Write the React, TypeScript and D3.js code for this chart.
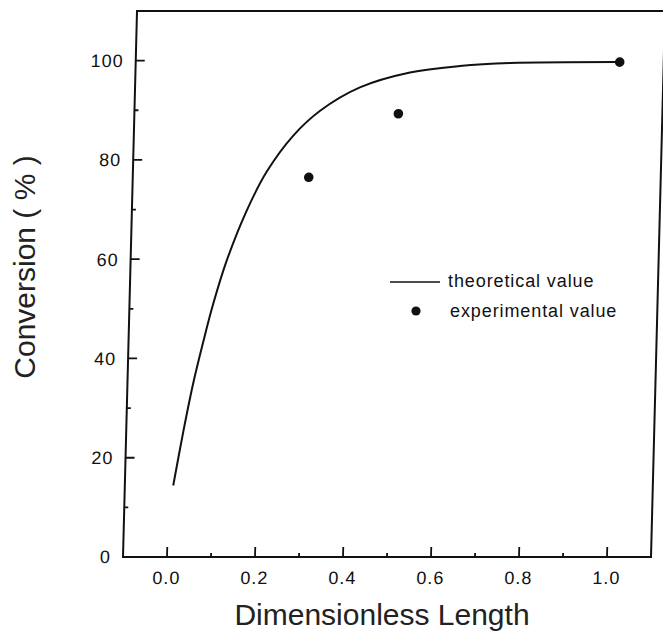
import React from 'react';
import * as d3 from 'd3';

const theoryX = [0.01, 0.03, 0.049, 0.07, 0.09, 0.118, 0.161, 0.204, 0.2625, 0.322, 0.411, 0.524, 0.637, 0.751, 1.0];
const theoryY = [14.4, 25.4, 34.8, 43.4, 50.9, 59.6, 69.8, 77.6, 84.9, 89.9, 94.6, 97.6, 98.9, 99.5, 99.7];
const expX = [0.3, 0.5, 1.0];
const expY = [76.5, 89.3, 99.7];
const xTicks = [0, 0.2, 0.4, 0.6, 0.8, 1.0];
const xTickLabels = ['0.0', '0.2', '0.4', '0.6', '0.8', '1.0'];
const xMinor = [0.1, 0.3, 0.5, 0.7, 0.9];
const yTicks = [0, 20, 40, 60, 80, 100];
const yTickLabels = ['0', '20', '40', '60', '80', '100'];
const yMinor = [10, 30, 50, 70, 90];
const legendLabels = ['theoretical value', 'experimental value'];
const xTitle = 'Dimensionless Length';
const yTitle = 'Conversion ( % )';

const FONT = '"Liberation Sans", Arial, Helvetica, sans-serif';

export default function App() {
  const W = 663, H = 635;
  const x = d3.scaleLinear().domain([-0.1, 1.1]).range([123, 651]);
  const y = d3.scaleLinear().domain([0, 110]).range([557, 11]);
  const pts = theoryX.map((v, i) => [v, theoryY[i]] as [number, number]);
  const line = d3.line<[number, number]>().x(d => x(d[0])).y(d => y(d[1])).curve(d3.curveCatmullRom.alpha(0.5));
  const x0 = x(-0.1), x1 = x(1.1), y0 = y(0), y1 = y(110);
  const ink = '#111';
  return (
    <svg width={W} height={H} style={{ position: 'absolute', left: 0, top: 0, background: '#fff' }}>
      <rect x={0} y={0} width={W} height={H} fill="#fff" />
      <g transform={`translate(0,${y0}) skewX(-1.47) translate(0,${-y0})`}>
        <path d={`M${x0},${y1}L${x1},${y1}L${x1},${y0}L${x0},${y0}Z`} fill="none" stroke={ink} strokeWidth={2} />
        {xTicks.map((t, i) => (
          <g key={'xt' + i}>
            <line x1={x(t)} x2={x(t)} y1={y0} y2={y0 - 10} stroke={ink} strokeWidth={1.8} />
            <text x={x(t)} y={y0 + 27} textAnchor="middle" fontFamily={FONT} fontSize={18} letterSpacing={1} fill={ink}>{xTickLabels[i]}</text>
          </g>
        ))}
        {xMinor.map((t, i) => (
          <line key={'xm' + i} x1={x(t)} x2={x(t)} y1={y0} y2={y0 - 4} stroke={ink} strokeWidth={1.8} />
        ))}
        {yTicks.map((t, i) => (
          <g key={'yt' + i}>
            <line x1={x0} x2={x0 + 9} y1={y(t)} y2={y(t)} stroke={ink} strokeWidth={1.8} />
            <text x={x0 - 12} y={y(t) + 6.5} textAnchor="end" fontFamily={FONT} fontSize={18} letterSpacing={1} fill={ink}>{yTickLabels[i]}</text>
          </g>
        ))}
        {yMinor.map((t, i) => (
          <line key={'ym' + i} x1={x0} x2={x0 + 4} y1={y(t)} y2={y(t)} stroke={ink} strokeWidth={1.8} />
        ))}
        <path d={line(pts) || ''} fill="none" stroke={ink} strokeWidth={2} />
        {expX.map((v, i) => (
          <circle key={'p' + i} cx={x(v)} cy={y(expY[i])} r={4.8} fill={ink} />
        ))}
      </g>
      <line x1={390} x2={440} y1={282} y2={282} stroke={ink} strokeWidth={1.6} />
      <text x={448} y={287} fontFamily={FONT} fontSize={18} letterSpacing={0.9} fill={ink}>{legendLabels[0]}</text>
      <circle cx={416} cy={311} r={4.6} fill={ink} />
      <text x={450} y={317} fontFamily={FONT} fontSize={18} letterSpacing={0.9} fill={ink}>{legendLabels[1]}</text>
      <text x={382} y={625} textAnchor="middle" fontFamily={FONT} fontSize={30} fill="#222">{xTitle}</text>
      <text transform="translate(35,267) rotate(-90)" textAnchor="middle" fontFamily={FONT} fontSize={30} fill="#222">{yTitle}</text>
    </svg>
  );
}
